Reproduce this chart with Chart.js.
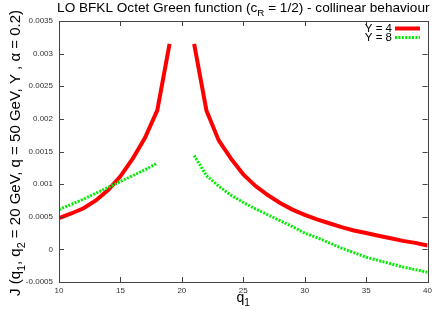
<!DOCTYPE html>
<html lang="en">
<head>
  <meta charset="UTF-8">
  <title>LO BFKL Octet Green function</title>
  <script src="https://cdn.jsdelivr.net/npm/chart.js"></script>
  <style>
    body { margin: 0; background: #fff; }
    #wrap { width: 436px; height: 310px; position: relative; }
  </style>
</head>
<body>
  <div id="wrap"><canvas id="myChart"></canvas></div>

<script>
// q1 values (GeV)
const qValues = [10, 11, 12, 13, 14, 15, 16, 17, 18, 19, 20, 21, 22, 23, 24, 25, 26, 27, 28, 29, 30,
                 31, 32, 33, 34, 35, 36, 37, 38, 39, 40];

// Y = 4
const valuesY4 = [0.00048, 0.00055, 0.00063, 0.00075, 0.00091, 0.00112, 0.00139, 0.00171, 0.00213, 0.00315,
                  null,
                  0.00315, 0.00213, 0.00167, 0.00139, 0.00115, 0.00097, 0.00083, 0.00071, 0.00061, 0.00053,
                  0.00046, 0.00040, 0.00034, 0.00029, 0.00025, 0.00021, 0.00017, 0.00013, 0.00010, 0.00006];

// Y = 8
const valuesY8 = [0.00061, 0.00069, 0.00077, 0.00086, 0.00095, 0.00104, 0.00113, 0.00122, 0.00132, null,
                  null,
                  0.00144, 0.00113, 0.00097, 0.00083, 0.00072, 0.00062, 0.00053, 0.00044, 0.00035, 0.00025,
                  0.00018, 0.00010, 0.00002, -0.00005, -0.00012, -0.00017, -0.00022, -0.00027, -0.00031, -0.00035];

const seriesLabels = ['Y = 4', 'Y = 8'];

const xTicks = [10, 15, 20, 25, 30, 35, 40];
const yTicks = [-0.0005, 0, 0.0005, 0.001, 0.0015, 0.002, 0.0025, 0.003, 0.0035];
const yTickLabels = ['-0.0005', '0', '0.0005', '0.001', '0.0015', '0.002', '0.0025', '0.003', '0.0035'];

const FONT = '"Liberation Sans", Arial, sans-serif';

// draw text with subscripts: parts = [[text, isSub], ...]
function drawRich(ctx, parts, x, y, size) {
  let total = 0;
  parts.forEach(p => {
    ctx.font = (p[1] ? size * 0.72 : size) + 'px ' + FONT;
    total += ctx.measureText(p[0]).width;
  });
  let cx = x - total / 2;
  ctx.textAlign = 'left';
  ctx.textBaseline = 'alphabetic';
  parts.forEach(p => {
    ctx.font = (p[1] ? size * 0.72 : size) + 'px ' + FONT;
    ctx.fillText(p[0], cx, p[1] ? y + size * 0.3 : y);
    cx += ctx.measureText(p[0]).width;
  });
}

const framePlugin = {
  id: 'frame',
  afterDraw(chart) {
    const ctx = chart.ctx;
    const a = chart.chartArea;
    const xs = chart.scales.x, ys = chart.scales.y;
    ctx.save();
    ctx.strokeStyle = '#444';
    ctx.lineWidth = 1;
    ctx.strokeRect(Math.round(a.left) + 0.5, Math.round(a.top) + 0.5,
                   Math.round(a.right - a.left), Math.round(a.bottom - a.top));
    ctx.beginPath();
    xTicks.forEach(v => {
      const px = Math.round(xs.getPixelForValue(v)) + 0.5;
      ctx.moveTo(px, a.bottom); ctx.lineTo(px, a.bottom - 5);
      ctx.moveTo(px, a.top); ctx.lineTo(px, a.top + 5);
    });
    yTicks.forEach(v => {
      const py = Math.round(ys.getPixelForValue(v)) + 0.5;
      ctx.moveTo(a.left, py); ctx.lineTo(a.left + 5, py);
      ctx.moveTo(a.right, py); ctx.lineTo(a.right - 5, py);
    });
    ctx.stroke();

    // titles
    ctx.fillStyle = '#000';
    drawRich(ctx, [['LO BFKL Octet Green function (c', false], ['R', true], [' = 1/2) - collinear behaviour', false]],
             (a.left + a.right) / 2, 12, 13.6);
    drawRich(ctx, [['q', false], ['1', true]], (a.left + a.right) / 2, 302, 14);

    ctx.save();
    ctx.translate(20, 153);
    ctx.rotate(-Math.PI / 2);
    drawRich(ctx, [['J (q', false], ['1', true], [', q', false], ['2', true],
                   [' = 20 GeV, q = 50 GeV, Y , \u03b1 = 0.2)', false]], 0, 0, 15);
    ctx.restore();

    // legend
    ctx.font = '11.5px ' + FONT;
    ctx.textAlign = 'right';
    ctx.textBaseline = 'alphabetic';
    chart.data.datasets.forEach((ds, i) => {
      const ly = 28.5 + i * 9;
      ctx.fillStyle = '#000';
      ctx.fillText(ds.label, 392, ly + 3.5);
      ctx.strokeStyle = ds.borderColor;
      ctx.lineWidth = ds.borderWidth;
      ctx.setLineDash(ds.borderDash || []);
      ctx.beginPath();
      ctx.moveTo(395, ly); ctx.lineTo(420, ly);
      ctx.stroke();
    });
    ctx.setLineDash([]);
    ctx.restore();
  }
};

const ctx = document.getElementById('myChart').getContext('2d');
new Chart(ctx, {
  type: 'line',
  data: {
    labels: qValues,
    datasets: [{
      label: seriesLabels[0],
      data: qValues.map((q, i) => ({ x: q, y: valuesY4[i] })),
      borderColor: '#ff0000',
      borderWidth: 4,
      pointRadius: 0,
      tension: 0,
      order: 1
    }, {
      label: seriesLabels[1],
      data: qValues.map((q, i) => ({ x: q, y: valuesY8[i] })),
      borderColor: '#00ee00',
      borderWidth: 3,
      borderDash: [2, 1.4],
      pointRadius: 0,
      tension: 0,
      order: 0
    }]
  },
  options: {
    responsive: true,
    maintainAspectRatio: false,
    animation: false,
    spanGaps: false,
    layout: { padding: { top: 21, right: 5, left: 0, bottom: 0 } },
    plugins: {
      legend: { display: false },
      tooltip: { enabled: false }
    },
    scales: {
      x: {
        type: 'linear',
        min: 10,
        max: 40,
        afterFit: (s) => { s.height = 28; },
        afterBuildTicks: (s) => { s.ticks = xTicks.map(v => ({ value: v })); },
        ticks: {
          padding: 4,
          color: '#333',
          font: { size: 8, family: FONT },
          maxRotation: 0
        },
        grid: { display: false, drawTicks: false },
        border: { display: false }
      },
      y: {
        min: -0.0005,
        max: 0.0035,
        afterFit: (s) => { s.width = 59; },
        afterBuildTicks: (s) => { s.ticks = yTicks.map(v => ({ value: v })); },
        ticks: {
          padding: 6,
          color: '#333',
          font: { size: 8, family: FONT },
          callback: (value, index) => yTickLabels[index]
        },
        grid: { display: false, drawTicks: false },
        border: { display: false }
      }
    }
  },
  plugins: [framePlugin]
});
</script>
</body>
</html>
